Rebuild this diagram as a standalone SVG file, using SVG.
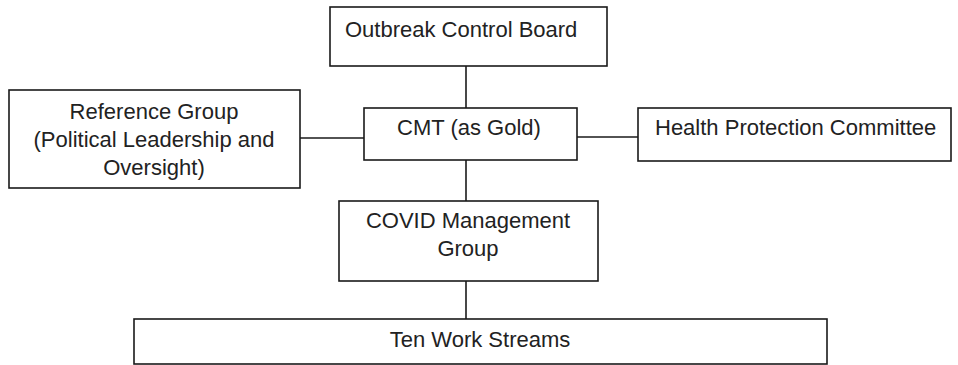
<svg xmlns="http://www.w3.org/2000/svg" width="958" height="365" viewBox="0 0 958 365">
<style>
.box{fill:#fff;stroke:#1a1a1a;stroke-width:1.6}
.line{stroke:#1a1a1a;stroke-width:1.6;fill:none}
text{font-family:"Liberation Sans",Arial,sans-serif;font-size:22px;fill:#222}
.c{text-anchor:middle}
</style>
<rect width="958" height="365" fill="#fff"/>
<g id="connectors">
<line class="line" x1="466" y1="66" x2="466" y2="108"/>
<line class="line" x1="300" y1="138" x2="364" y2="138"/>
<line class="line" x1="577" y1="137" x2="638" y2="137"/>
<line class="line" x1="466" y1="160" x2="466" y2="201"/>
<line class="line" x1="466" y1="281" x2="466" y2="319"/>
</g>
<g id="outbreak-control-board">
<rect class="box" x="330" y="7" width="277" height="59"/>
<text x="345" y="37">Outbreak Control Board</text>
</g>
<g id="cmt">
<rect class="box" x="364" y="108" width="213" height="52"/>
<text class="c" x="469" y="135">CMT (as Gold)</text>
</g>
<g id="reference-group">
<rect class="box" x="9" y="90" width="291" height="98"/>
<text class="c" x="154" y="119">Reference Group</text>
<text class="c" x="154" y="147">(Political Leadership and</text>
<text class="c" x="154" y="175">Oversight)</text>
</g>
<g id="health-protection-committee">
<rect class="box" x="638" y="108" width="313" height="53"/>
<text x="655" y="135">Health Protection Committee</text>
</g>
<g id="covid-management-group">
<rect class="box" x="339" y="201" width="259" height="80"/>
<text class="c" x="468" y="228">COVID Management</text>
<text class="c" x="468" y="256">Group</text>
</g>
<g id="ten-work-streams">
<rect class="box" x="134" y="319" width="693" height="45"/>
<text class="c" x="480" y="347">Ten Work Streams</text>
</g>
</svg>
